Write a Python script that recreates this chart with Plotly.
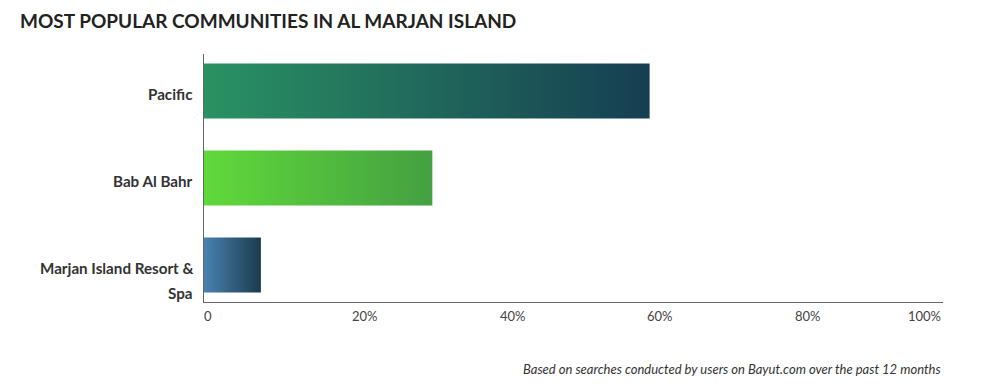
import textwrap
import plotly.graph_objects as go

# ---- data ----
title_text = "MOST POPULAR COMMUNITIES IN AL MARJAN ISLAND"
categories = ["Pacific", "Bab Al Bahr", "Marjan Island Resort & Spa"]
shares = [60.3, 30.9, 7.7]  # percent of searches
start_colors = ["#2a9263", "#60d93b", "#4a82b2"]
end_colors = ["#163e52", "#44a041", "#1b3b4b"]
tick_values = [0, 20, 40, 60, 80, 100]
tick_labels = ["0", "20%", "40%", "60%", "80%", "100%"]
footnote = "Based on searches conducted by users on Bayut.com over the past 12 months"

FONT = "Lato"
BAR_W = 0.632

fig = go.Figure()

for i, (cat, v, c0, c1) in enumerate(zip(categories, shares, start_colors, end_colors)):
    y0, y1 = i - BAR_W / 2, i + BAR_W / 2
    fig.add_trace(go.Scatter(
        x=[0, v, v, 0, 0],
        y=[y0, y0, y1, y1, y0],
        mode="lines",
        fill="toself",
        line=dict(width=0),
        fillgradient=dict(type="horizontal",
                          colorscale=[[0, c0], [1, c1]]),
        name=cat,
        hoverinfo="text",
        text=f"{cat}: {v}%",
        showlegend=False,
    ))

annotations = []
# category labels (wrapped like the original)
for i, cat in enumerate(categories):
    lines = textwrap.wrap(cat, 22)
    for k, line in enumerate(lines):
        annotations.append(dict(
            text=line, xref="paper", x=0, xshift=-9, xanchor="right",
            yref="y", y=i, yanchor="middle", yshift=-3 - 25 * k,
            showarrow=False,
            font=dict(family=FONT, size=15.2, color="#333333", weight=700),
        ))

# x tick labels: left-aligned at tick, last one right-aligned
for tv, tl in zip(tick_values, tick_labels):
    last = tv == tick_values[-1]
    annotations.append(dict(
        text=tl, xref="x", x=tv, xanchor="right" if last else "left",
        xshift=0 if last else -2,
        yref="paper", y=0, yanchor="top", yshift=-4,
        showarrow=False,
        font=dict(family=FONT, size=13, color="#444444"),
    ))

annotations.append(dict(
    text=f"<i>{footnote}</i>", xref="paper", x=1, xanchor="right",
    yref="paper", y=(302 - 369) / 248, yanchor="middle",
    showarrow=False,
    font=dict(family=FONT, size=13, color="#333333"),
))

fig.update_layout(
    width=1005, height=389,
    margin=dict(l=204, r=62, t=54, b=87),
    paper_bgcolor="white", plot_bgcolor="white",
    title=dict(text=title_text, x=20 / 1005, xanchor="left", xref="container",
               y=1 - 21.5 / 389, yanchor="middle", yref="container",
               font=dict(family=FONT, size=19, color="#222222", weight=700)),
    xaxis=dict(range=[0, 100], tickvals=tick_values, showticklabels=False,
               showgrid=False, zeroline=False, showline=True,
               linecolor="#666666", linewidth=1, ticks="", fixedrange=True),
    yaxis=dict(range=[2.424, -0.424], showticklabels=False, showgrid=False,
               zeroline=False, showline=True, linecolor="#666666", linewidth=1,
               ticks="", fixedrange=True),
    annotations=annotations,
    showlegend=False,
)

fig.write_html("out.html")
